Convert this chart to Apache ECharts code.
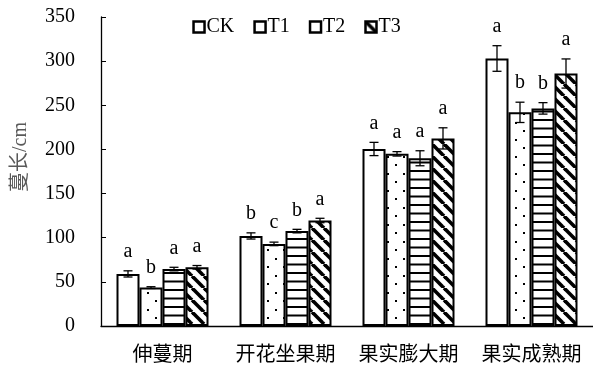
<!DOCTYPE html>
<html>
<head>
<meta charset="utf-8">
<script src="https://cdn.jsdelivr.net/npm/echarts@6/dist/echarts.min.js"></script>
<style>
  html, body { margin: 0; padding: 0; background: #fff; }
  #chart { width: 593px; height: 369px; }
</style>
</head>
<body>
<div id="chart"></div>
<script>
// Growth stages and treatment names
const categories = ['伸蔓期', '开花坐果期', '果实膨大期', '果实成熟期'];
const seriesNames = ['CK', 'T1', 'T2', 'T3'];

// Vine length (cm) per stage, one array per treatment
const ckValues = [59, 102, 200.5, 303];
const t1Values = [43.5, 93, 195, 242];
const t2Values = [64.5, 107.5, 190, 246.5];
const t3Values = [66.5, 119.5, 212.5, 286];

// Standard errors
const ckErrors = [3.5, 3.5, 7.5, 14.5];
const t1Errors = [1, 2, 2.5, 11.5];
const t2Errors = [2, 2, 8.5, 6.5];
const t3Errors = [2, 2.5, 12, 16.5];

// Significance letters
const ckLetters = ['a', 'b', 'a', 'a'];
const t1Letters = ['b', 'c', 'a', 'b'];
const t2Letters = ['a', 'b', 'a', 'b'];
const t3Letters = ['a', 'a', 'a', 'a'];

// Y axis ticks
const yTicks = [0, 50, 100, 150, 200, 250, 300, 350];

const values = [ckValues, t1Values, t2Values, t3Values];
const errors = [ckErrors, t1Errors, t2Errors, t3Errors];
const letters = [ckLetters, t1Letters, t2Letters, t3Letters];

const BAR_W = 23;
const SERIF = '"Liberation Serif", "Times New Roman", serif';
const CJK = '"Noto Sans CJK SC", sans-serif';

// Fill patterns drawn on small canvases
function makePattern(kind) {
  const c = document.createElement('canvas');
  const ctx = c.getContext('2d');
  if (kind === 'dots') {
    c.width = 16; c.height = 17;
    ctx.fillStyle = '#fff'; ctx.fillRect(0, 0, 16, 17);
    ctx.fillStyle = '#000';
    ctx.fillRect(3, 3, 2, 2);
    ctx.fillRect(11, 11, 2, 2);
  } else if (kind === 'hlines') {
    c.width = 8; c.height = 17;
    ctx.fillStyle = '#fff'; ctx.fillRect(0, 0, 8, 17);
    ctx.fillStyle = '#000';
    ctx.fillRect(0, 0, 8, 2);
    ctx.fillRect(0, 8.5, 8, 2);
  } else if (kind === 'diag') {
    c.width = 12; c.height = 12;
    ctx.fillStyle = '#fff'; ctx.fillRect(0, 0, 12, 12);
    ctx.strokeStyle = '#000';
    ctx.lineWidth = 3.6;
    for (const off of [-12, 0, 12]) {
      ctx.beginPath();
      ctx.moveTo(off, 0);
      ctx.lineTo(off + 12, 12);
      ctx.stroke();
    }
  }
  return { image: c, repeat: 'repeat' };
}

const fills = ['#ffffff', makePattern('dots'), makePattern('hlines'), makePattern('diag')];
const legendFills = ['#ffffff', '#ffffff', '#ffffff', fills[3]];

const barSeries = seriesNames.map((name, i) => ({
  name: name,
  type: 'bar',
  barWidth: BAR_W,
  barGap: '0%',
  data: values[i],
  itemStyle: { color: fills[i], borderColor: '#000', borderWidth: 2 }
}));

// Error bars and significance letters for each treatment
const errSeries = seriesNames.map((name, i) => ({
  type: 'custom',
  name: name + '-err',
  silent: true,
  z: 10,
  data: categories.map((c, k) => [k, values[i][k], errors[i][k]]),
  renderItem: function (params, api) {
    const k = api.value(0);
    const v = api.value(1);
    const e = api.value(2);
    const letter = letters[i][k];
    const top = api.coord([k, v + e]);
    const bot = api.coord([k, v - e]);
    const x = top[0] + (i - 1.5) * BAR_W;
    const cap = 4.5;
    const ls = { stroke: '#000', lineWidth: 1.3 };
    return {
      type: 'group',
      children: [
        { type: 'line', shape: { x1: x, y1: top[1], x2: x, y2: bot[1] }, style: ls },
        { type: 'line', shape: { x1: x - cap, y1: top[1], x2: x + cap, y2: top[1] }, style: ls },
        { type: 'line', shape: { x1: x - cap, y1: bot[1], x2: x + cap, y2: bot[1] }, style: ls },
        {
          type: 'text',
          style: {
            text: letter, x: x, y: top[1] - 9,
            align: 'center', verticalAlign: 'bottom',
            font: '20px ' + SERIF, fill: '#000'
          }
        }
      ]
    };
  }
}));

const chart = echarts.init(document.getElementById('chart'), null, { renderer: 'canvas' });
chart.setOption({
  animation: false,
  backgroundColor: '#fff',
  grid: { left: 101, right: 0, top: 17, bottom: 43, containLabel: false },
  legend: {
    data: seriesNames.map((n, i) => ({ name: n, itemStyle: { color: legendFills[i] } })),
    top: 12,
    left: 'center',
    icon: 'rect',
    itemWidth: 11,
    itemHeight: 11,
    itemGap: 19,
    textStyle: { fontFamily: SERIF, fontSize: 20, color: '#000', padding: [0, 0, 0, -3] },
    itemStyle: { borderColor: '#000', borderWidth: 2.5 }
  },
  xAxis: {
    type: 'category',
    data: categories,
    axisLine: { lineStyle: { color: '#000', width: 1.3 } },
    axisTick: { inside: true, length: 5, lineStyle: { color: '#000' } },
    axisLabel: { interval: 0, fontFamily: CJK, fontSize: 20, color: '#000', margin: 17 }
  },
  yAxis: {
    type: 'value',
    min: 0,
    max: 350,
    interval: 50,
    splitLine: { show: false },
    axisLine: { show: true, lineStyle: { color: '#000', width: 1.3 } },
    axisTick: { show: true, inside: true, length: 5, lineStyle: { color: '#000' } },
    axisLabel: {
      fontFamily: SERIF, fontSize: 20, color: '#000', margin: 26,
      formatter: v => (yTicks.indexOf(v) >= 0 ? String(v) : '')
    }
  },
  graphic: [{
    type: 'text',
    x: 21,
    y: 157,
    rotation: Math.PI / 2,
    style: {
      text: '蔓长/cm',
      font: '20px ' + SERIF.replace('serif', '"Noto Sans CJK SC", serif'),
      fill: '#595959',
      align: 'center',
      verticalAlign: 'middle'
    }
  }],
  series: barSeries.concat(errSeries)
});
</script>
</body>
</html>
